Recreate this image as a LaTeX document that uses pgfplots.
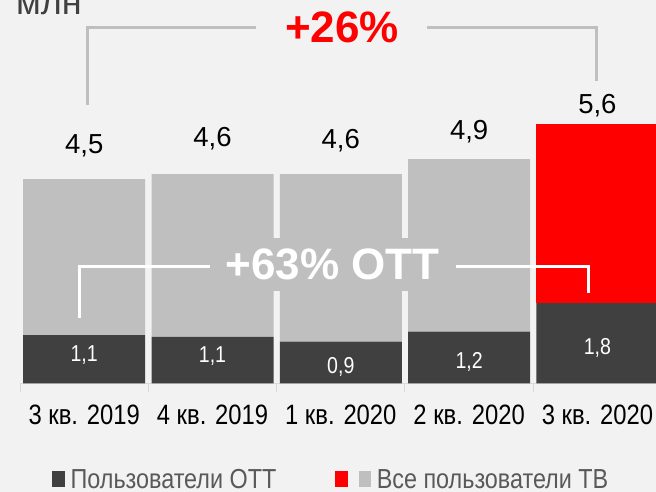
\documentclass[border=0pt]{standalone}
\usepackage{pgfplots}
\pgfplotsset{compat=1.18}
\usepackage{fontspec}
\setmainfont{Liberation Sans}
\newfontfamily\cond[FakeStretch=0.85]{Liberation Sans}

\definecolor{bg}{HTML}{F2F2F2}
\definecolor{cdark}{HTML}{404040}
\definecolor{clight}{HTML}{BFBFBF}
\definecolor{cred}{HTML}{FF0000}
\definecolor{ctick}{HTML}{D9D9D9}
\definecolor{clegend}{HTML}{595959}

\begin{document}
\begin{tikzpicture}[x=1bp,y=1bp]
\useasboundingbox (0,0) rectangle (656,492);
\clip (0,0) rectangle (656,492);
\fill[bg] (0,0) rectangle (656,492);
\begin{axis}[
    at={(0bp,108.5bp)}, anchor=south west,
    scale only axis, width=656bp, height=383.5bp,
    xmin=-0.6563, xmax=4.4567, ymin=0, ymax=8.41,
    ybar stacked, bar width=122bp,
    axis x line*=bottom, hide y axis,
    x axis line style={ctick, line width=1bp, shorten <=20bp},
    xtick={0,1,2,3,4},
    xticklabels={3 кв. 2019, 4 кв. 2019, 1 кв. 2020, 2 кв. 2020, 3 кв. 2020},
    major tick length=0pt,
    minor xtick={-0.5,0.5,1.5,2.5,3.5},
    minor tick length=9bp, tick align=outside,
    minor tick style={ctick, line width=1bp},
    xticklabel style={font=\cond\fontsize{28bp}{30bp}\selectfont, text=black, yshift=-18bp},
    legend style={at={(0.0747,-0.2517)}, anchor=west, draw=none, fill=none,
        legend columns=2, font=\cond\fontsize{27.5bp}{29bp}\selectfont, text=clegend,
        /tikz/every even column/.append style={column sep=57bp}},
]
% OTT users
\addplot[fill=cdark, draw=none] coordinates {(0,1.06) (1,1.02) (2,0.92) (3,1.14) (4,1.76)};
% rest of TV users
\addplot[fill=clight, draw=none] coordinates {(0,3.42) (1,3.57) (2,3.67) (3,3.78) (4,0)};
\addplot[fill=cred, draw=none] coordinates {(0,0) (1,0) (2,0) (3,0) (4,3.92)};

\addlegendimage{legend image code/.code={\fill[cdark] (0bp,-6bp) rectangle (12bp,8.5bp);
    \path (16bp,0bp);}}
\addlegendimage{legend image code/.code={\fill[cred] (0bp,-6bp) rectangle (12bp,8.5bp);
    \fill[clight] (23.5bp,-6bp) rectangle (35bp,8.5bp); \path (39bp,0bp);}}
\legend{,,,Пользователи ОТТ, Все пользователи ТВ}

% label anchors
\coordinate (t0) at (axis cs:0,5.05);
\coordinate (t1) at (axis cs:1,5.19);
\coordinate (t2) at (axis cs:2,5.16);
\coordinate (t3) at (axis cs:3,5.34);
\coordinate (t4) at (axis cs:4,5.91);
\coordinate (o0) at (axis cs:0,0.478);
\coordinate (o1) at (axis cs:1,0.456);
\coordinate (o2) at (axis cs:2,0.224);
\coordinate (o3) at (axis cs:3,0.333);
\coordinate (o4) at (axis cs:4,0.625);
\end{axis}

% totals
\begin{scope}[every node/.style={anchor=base, font=\fontsize{27.5bp}{30bp}\selectfont, text=black}]
\node at (t0) {4,5};
\node at (t1) {4,6};
\node at (t2) {4,6};
\node at (t3) {4,9};
\node at (t4) {5,6};
\end{scope}
% OTT values
\begin{scope}[every node/.style={anchor=base, font=\cond\fontsize{23bp}{24bp}\selectfont, text=white}]
\node at (o0) {1,1};
\node at (o1) {1,1};
\node at (o2) {0,9};
\node at (o3) {1,2};
\node at (o4) {1,8};
\end{scope}

% growth brackets
\draw[clight, line width=3bp] (87,387) -- (87,464) -- (256,464);
\draw[clight, line width=3bp] (427,464) -- (596,464) -- (596,411);
\node[anchor=base, text=cred, font=\bfseries\fontsize{44bp}{44bp}\selectfont] at (342,449) {+26\%};

\fill[clight] (210,201) rectangle (456,254);
\draw[white, line width=3bp] (79,174) -- (79,225) -- (210,225);
\draw[white, line width=3bp] (456,225) -- (588,225) -- (588,199);
\node[anchor=base, text=white, font=\bfseries\fontsize{44bp}{44bp}\selectfont] at (332.5,212) {+63\% OTT};

\node[anchor=base west, inner sep=0pt, text=cdark, font=\fontsize{36bp}{36bp}\selectfont] at (16,477) {млн};
\end{tikzpicture}
\end{document}
